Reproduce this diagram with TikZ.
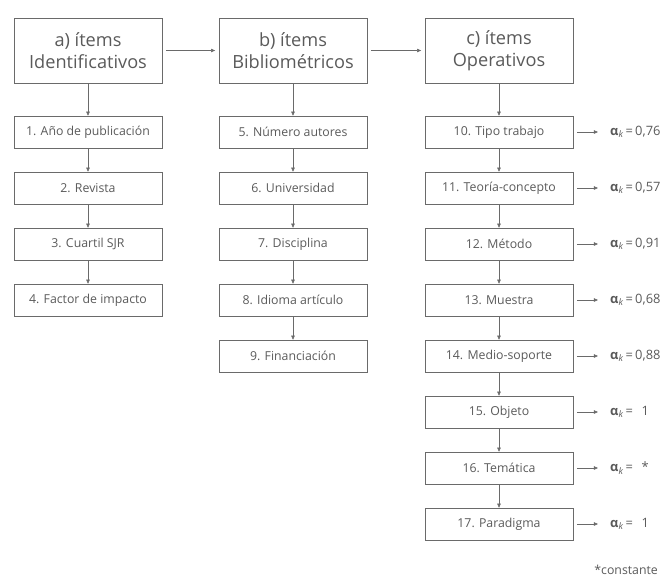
\documentclass[tikz,border=0pt]{standalone}
\usepackage{fontspec}
\setmainfont{Open Sans}
\usetikzlibrary{arrows.meta}
\definecolor{linegray}{HTML}{6A6A6A}
\definecolor{textgray}{HTML}{5A5A5A}
\tikzset{
  head/.style={draw=linegray, semithick, minimum width=4.44cm, minimum height=1.95cm, align=center, text=textgray, font=\fontsize{15.5}{18.5}\selectfont},
  item/.style={draw=linegray, minimum width=4.44cm, minimum height=0.96cm, text=textgray, font=\fontsize{10.5}{12}\selectfont},
  coef/.style={anchor=west, text=textgray, font=\fontsize{11}{13}\selectfont, inner sep=0pt},
  link/.style={draw=linegray, -{Triangle[length=3.5pt,width=3pt]}}
}
\newcommand{\ak}{{\bfseries α}\textsubscript{\itshape k}\,=\,}
\begin{document}
\begin{tikzpicture}[x=0.03cm, y=-0.03cm]
\useasboundingbox (0,0) rectangle (665,578);
% headers
\node[head] (ha) at (88,50.5) {a) ítems\\Identificativos};
\node[head] (hb) at (293,50.5) {b) ítems\\Bibliométricos};
\node[head] (hc) at (499,50.5) {c) ítems\\Operativos};
\draw[link] ([xshift=3pt]ha.east) -- ([xshift=-3pt]hb.west);
\draw[link] ([xshift=3pt]hb.east) -- ([xshift=-3pt]hc.west);
% column a
\foreach \t [count=\i] in {1. Año de publicación, 2. Revista, 3. Cuartil SJR, 4. Factor de impacto}
  \node[item] (a\i) at (88,{132+56*(\i-1)}) {\t};
% column b
\foreach \t [count=\i] in {5. Número autores, 6. Universidad, 7. Disciplina, 8. Idioma artículo, 9. Financiación}
  \node[item] (b\i) at (293,{132+56*(\i-1)}) {\t};
% column c
\foreach \t/\v [count=\i] in {10. Tipo trabajo/{0,76}, 11. Teoría-concepto/{0,57}, 12. Método/{0,91}, 13. Muestra/{0,68}, 14. Medio-soporte/{0,88}, 15. Objeto/{\enspace1}, 16. Temática/{\enspace*}, 17. Paradigma/{\enspace1}}{
  \node[item] (c\i) at (499,{132+56*(\i-1)}) {\t};
  \coordinate (e\i) at (598,{132+56*(\i-1)});
  \node[coef] (k\i) at (610,{132+56*(\i-1)}) {\ak\v};
  \draw[link] ([xshift=3pt]c\i.east) -- (e\i);
}
% vertical links
\draw[link] (ha) -- (a1);
\draw[link] (hb) -- (b1);
\draw[link] (hc) -- (c1);
\foreach \i [evaluate=\i as \j using int(\i+1)] in {1,2,3}
  \draw[link] (a\i) -- (a\j);
\foreach \i [evaluate=\i as \j using int(\i+1)] in {1,...,4}
  \draw[link] (b\i) -- (b\j);
\foreach \i [evaluate=\i as \j using int(\i+1)] in {1,...,7}
  \draw[link] (c\i) -- (c\j);
\node[anchor=east, text=textgray, font=\fontsize{10.5}{12}\selectfont] (nota) at (662,570) {*constante};
\end{tikzpicture}
\end{document}
